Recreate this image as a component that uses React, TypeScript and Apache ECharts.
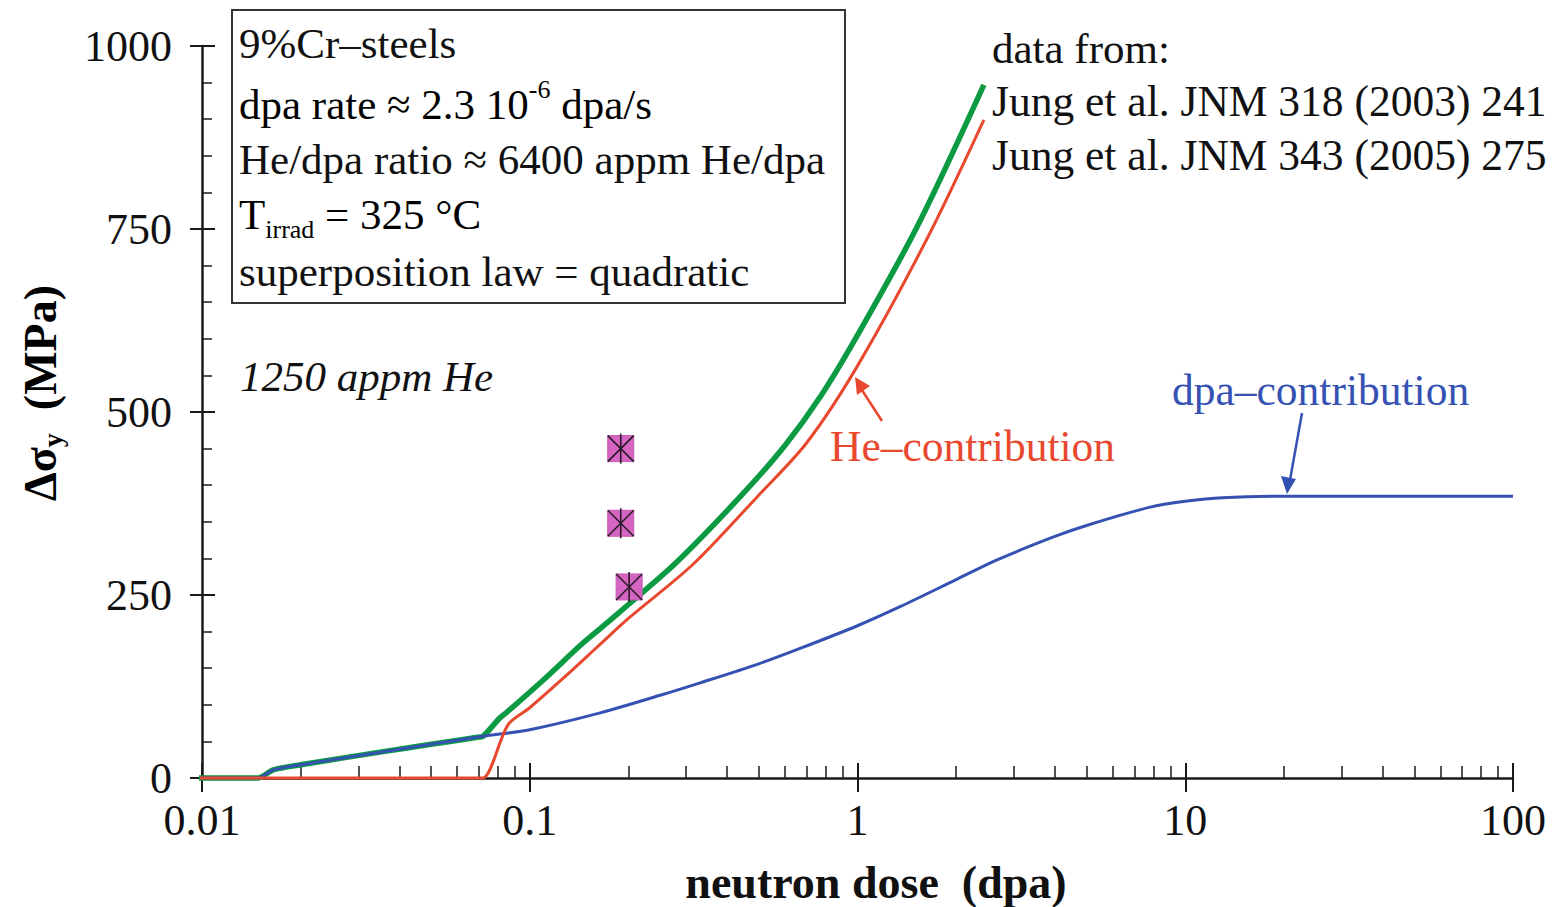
import React, { useEffect, useRef } from 'react';
import * as echarts from 'echarts';

const xTickLabels = ['0.01', '0.1', '1', '10', '100'];
const yTickLabels = ['0', '250', '500', '750', '1000'];

// dpa-contribution (blue)
const dpaDose = [0.0091, 0.014, 0.0148, 0.0165, 0.02, 0.0357, 0.05, 0.072, 0.1, 0.164, 0.25, 0.331, 0.5, 0.668, 1.0, 1.348, 2.0, 2.665, 4.0, 5.0, 7.81, 10, 13, 20, 100];
const dpaStress = [0, 0, 0, 11, 18, 36, 46, 57, 66, 89, 113, 130, 156, 177, 208, 234, 271, 298, 330, 345, 370, 378, 383, 385, 385];

// total (green)
const totalDose = [0.0091, 0.014, 0.0148, 0.0165, 0.02, 0.0357, 0.05, 0.07, 0.072, 0.081, 0.0852, 0.11, 0.145, 0.164, 0.2, 0.281, 0.438, 0.6, 0.768, 1.0, 1.52, 2.43];
const totalStress = [0, 0, 0, 11, 18, 36, 46, 56, 57, 82, 90, 134, 184, 204, 237, 295, 384, 454, 520, 605, 753, 947];

// He-contribution (red)
const heDose = [0.0091, 0.07, 0.072, 0.0859, 0.1, 0.1263, 0.1616, 0.2, 0.315, 0.494, 0.7, 1.0, 1.64, 2.43];
const heStress = [0, 0, 0, 73, 96, 136, 180, 218, 292, 384, 458, 563, 739, 899];

// experimental points
const expDose = [0.1895, 0.1895, 0.201];
const expStress = [450, 348, 261];

const FONT = '"Liberation Serif", "Times New Roman", serif';
const GREEN = '#0c9a43';
const RED = '#e8492e';
const BLUE = '#3552b3';
const AXIS = '#1a1a1a';

export default function App() {
  const ref = useRef<HTMLDivElement>(null);
  useEffect(() => {
    if (!ref.current) return;
    const chart = echarts.init(ref.current, undefined, { renderer: 'svg' });
    const pairs = (xs: number[], ys: number[]) => xs.map((x, i) => [x, ys[i]]);
    const n = { fontSize: 43, fontFamily: FONT, color: '#111', lineHeight: 56 };
    const lineBase = { type: 'line', showSymbol: false, symbol: 'none', clip: false, smooth: 0.3 };
    const option: any = {
      animation: false,
      backgroundColor: '#fff',
      grid: { left: 202, right: 41, top: 46, bottom: 129, outerBoundsMode: 'none' },
      xAxis: [
        {
          type: 'log', logBase: 10, min: 0.01, max: 100,
          axisLine: { show: true, lineStyle: { color: AXIS, width: 2.5 } },
          axisTick: { show: true, inside: false, length: 14, lineStyle: { color: AXIS, width: 2 } },
          minorTick: { show: false },
          splitLine: { show: false },
          axisLabel: {
            show: true, margin: 20, color: '#111', fontSize: 44, fontFamily: FONT,
            formatter: (v: number) => xTickLabels[Math.round(Math.log10(v)) + 2],
          },
        },
        {
          type: 'log', logBase: 10, min: 0.01, max: 100, position: 'bottom',
          axisLine: { show: false },
          axisTick: { show: true, inside: true, length: 15, lineStyle: { color: AXIS, width: 2 } },
          minorTick: { show: true, splitNumber: 9, length: 12, lineStyle: { color: AXIS, width: 1.5 } },
          splitLine: { show: false },
          axisLabel: { show: false },
        },
      ],
      yAxis: [
        {
          type: 'value', min: 0, max: 1000, interval: 250,
          axisLine: { show: true, lineStyle: { color: AXIS, width: 2.5 } },
          axisTick: { show: true, inside: false, length: 12, lineStyle: { color: AXIS, width: 2 } },
          splitLine: { show: false },
          axisLabel: {
            show: true, margin: 30, color: '#111', fontSize: 44, fontFamily: FONT,
            formatter: (v: number) => yTickLabels[Math.round(v / 250)],
          },
        },
        {
          type: 'value', min: 0, max: 1000, interval: 250, position: 'left',
          axisLine: { show: false },
          axisTick: { show: true, inside: true, length: 13, lineStyle: { color: AXIS, width: 2 } },
          minorTick: { show: true, splitNumber: 5, length: 10, lineStyle: { color: AXIS, width: 1.5 } },
          splitLine: { show: false },
          axisLabel: { show: false },
        },
      ],
      series: [
        { ...lineBase, name: 'total', data: pairs(totalDose, totalStress), lineStyle: { color: GREEN, width: 5.5 }, z: 3 },
        { ...lineBase, name: 'dpa', data: pairs(dpaDose, dpaStress), lineStyle: { color: BLUE, width: 3 }, z: 4 },
        { ...lineBase, name: 'He', data: pairs(heDose, heStress), lineStyle: { color: RED, width: 3 }, z: 5 },
        {
          name: 'exp', type: 'custom', coordinateSystem: 'cartesian2d', z: 6,
          data: pairs(expDose, expStress),
          renderItem: (_p: any, api: any) => {
            const c = api.coord([api.value(0), api.value(1)]);
            const h = 13;
            const ls = { stroke: '#2a1a2a', lineWidth: 1.6 };
            return {
              type: 'group',
              children: [
                { type: 'rect', shape: { x: c[0] - h, y: c[1] - h, width: 2 * h, height: 2 * h }, style: { fill: '#d565c1', stroke: '#c858b4', lineWidth: 1 } },
                { type: 'line', shape: { x1: c[0], y1: c[1] - h - 2, x2: c[0], y2: c[1] + h + 2 }, style: ls },
                { type: 'line', shape: { x1: c[0] - h, y1: c[1] - h, x2: c[0] + h, y2: c[1] + h }, style: ls },
                { type: 'line', shape: { x1: c[0] + h, y1: c[1] - h, x2: c[0] - h, y2: c[1] + h }, style: ls },
              ],
            };
          },
        },
      ],
      graphic: [
        { type: 'rect', shape: { x: 232, y: 10, width: 613, height: 293 }, style: { fill: 'none', stroke: '#333', lineWidth: 2 }, z: 10 },
        { type: 'text', x: 239, y: 43, style: { text: '9%Cr–steels', font: `43px ${FONT}`, fill: '#111', textVerticalAlign: 'middle' }, z: 10 },
        {
          type: 'text', x: 239, y: 104, z: 10,
          style: {
            text: '{n|dpa rate ≈ 2.3 10}{s|-6}{n| dpa/s}', textVerticalAlign: 'middle',
            rich: { n, s: { fontSize: 26, fontFamily: FONT, color: '#111', verticalAlign: 'top', lineHeight: 26 } },
          },
        },
        { type: 'text', x: 239, y: 159, style: { text: 'He/dpa ratio ≈ 6400 appm He/dpa', font: `43px ${FONT}`, fill: '#111', textVerticalAlign: 'middle' }, z: 10 },
        {
          type: 'text', x: 239, y: 214, z: 10,
          style: {
            text: '{n|T}{b|irrad}{n| = 325 °C}', textVerticalAlign: 'middle',
            rich: { n, b: { fontSize: 26, fontFamily: FONT, color: '#111', verticalAlign: 'bottom', lineHeight: 26 } },
          },
        },
        { type: 'text', x: 239, y: 271, style: { text: 'superposition law = quadratic', font: `43px ${FONT}`, fill: '#111', textVerticalAlign: 'middle' }, z: 10 },
        { type: 'text', x: 240, y: 376, style: { text: '1250 appm He', font: `italic 43px ${FONT}`, fill: '#111', textVerticalAlign: 'middle' }, z: 10 },
        { type: 'text', x: 992, y: 48, style: { text: 'data from:', font: `43px ${FONT}`, fill: '#111', textVerticalAlign: 'middle' }, z: 10 },
        { type: 'text', x: 992, y: 101, style: { text: 'Jung et al. JNM 318 (2003) 241', font: `43.5px ${FONT}`, fill: '#111', textVerticalAlign: 'middle' }, z: 10 },
        { type: 'text', x: 992, y: 155, style: { text: 'Jung et al. JNM 343 (2005) 275', font: `43.5px ${FONT}`, fill: '#111', textVerticalAlign: 'middle' }, z: 10 },
        { type: 'text', x: 1172, y: 390, style: { text: 'dpa–contribution', font: `43.5px ${FONT}`, fill: BLUE, textVerticalAlign: 'middle' }, z: 10 },
        { type: 'text', x: 830, y: 446, style: { text: 'He–contribution', font: `43.5px ${FONT}`, fill: RED, textVerticalAlign: 'middle' }, z: 10 },
        // arrows
        { type: 'line', shape: { x1: 882, y1: 421, x2: 860, y2: 387 }, style: { stroke: RED, lineWidth: 2.5 }, z: 10 },
        { type: 'polygon', shape: { points: [[855, 377], [857, 395], [870, 386]] }, style: { fill: RED }, z: 10 },
        { type: 'line', shape: { x1: 1302, y1: 413, x2: 1290, y2: 480 }, style: { stroke: BLUE, lineWidth: 2.5 }, z: 10 },
        { type: 'polygon', shape: { points: [[1287, 494], [1281, 476], [1296, 479]] }, style: { fill: BLUE }, z: 10 },
        // axis titles
        { type: 'text', x: 876, y: 882, style: { text: 'neutron dose  (dpa)', font: `bold 46px ${FONT}`, fill: '#111', textAlign: 'center', textVerticalAlign: 'middle' }, z: 10 },
        {
          type: 'text', x: 40, y: 393, rotation: Math.PI / 2, z: 10,
          style: {
            text: '{b|Δσ}{s|y}{b|  (MPa)}', textAlign: 'center', textVerticalAlign: 'middle',
            rich: {
              b: { fontSize: 46, fontWeight: 'bold', fontFamily: FONT, color: '#111', lineHeight: 52 },
              s: { fontSize: 28, fontWeight: 'bold', fontFamily: FONT, color: '#111', verticalAlign: 'bottom', lineHeight: 28 },
            },
          },
        },
      ],
    };
    chart.setOption(option);
    return () => chart.dispose();
  }, []);
  return <div ref={ref} style={{ position: 'fixed', left: 0, top: 0, width: 1554, height: 907, background: '#fff' }} />;
}
